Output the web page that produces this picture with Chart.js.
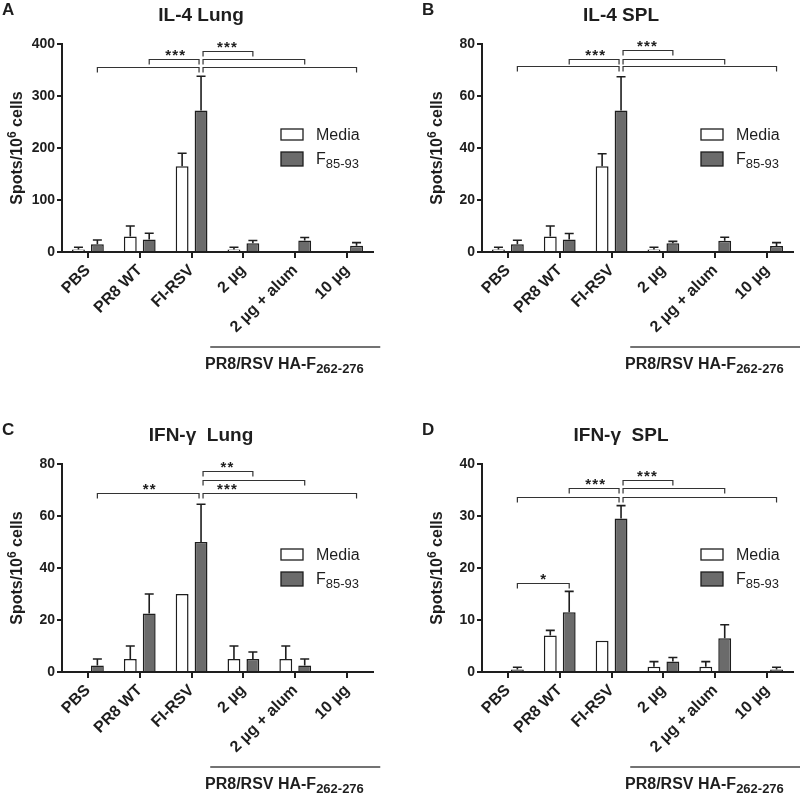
<!DOCTYPE html>
<html>
<head>
<meta charset="utf-8">
<script src="https://cdn.jsdelivr.net/npm/chart.js@4.4.1/dist/chart.umd.min.js"></script>
<style>
  body { margin: 0; background: #fff; width: 800px; height: 794px; overflow: hidden; position: relative; }
  canvas { position: absolute; }
</style>
</head>
<body>
<canvas id="chartA" width="400" height="374" style="left:0;top:0"></canvas>
<canvas id="chartB" width="380" height="374" style="left:420px;top:0"></canvas>
<canvas id="chartC" width="400" height="374" style="left:0;top:420px"></canvas>
<canvas id="chartD" width="380" height="374" style="left:420px;top:420px"></canvas>
<script>
// groupes (axe x) et séries
let groups = ['PBS', 'PR8 WT', 'FI-RSV', '2 µg', '2 µg + alum', '10 µg'];
let seriesNames = ['Media', 'F85-93'];

// A : IL-4 poumon
let lungIL4Media = [5, 30, 165, 5, null, null];
let lungIL4MediaErr = [4, 20, 25, 4, null, null];
let lungIL4F = [15, 24, 272, 17, 22, 12];
let lungIL4FErr = [8, 12, 66, 5, 6, 6];
let lungIL4Ticks = [0, 100, 200, 300, 400];

// B : IL-4 rate
let splIL4Media = [1, 6, 33, 1, null, null];
let splIL4MediaErr = [0.8, 4, 4.8, 0.8, null, null];
let splIL4F = [3, 4.8, 54.4, 3.4, 4.3, 2.3];
let splIL4FErr = [1.5, 2.3, 13, 0.7, 1.4, 1.3];
let splIL4Ticks = [0, 20, 40, 60, 80];

// C : IFN-γ poumon
let lungIFNMedia = [null, 5, 30, 5, 5, null];
let lungIFNMediaErr = [null, 5, null, 5, 5, null];
let lungIFNF = [2.5, 22.5, 50, 5, 2.5, null];
let lungIFNFErr = [2.5, 7.5, 14.5, 2.7, 2.5, null];
let lungIFNTicks = [0, 20, 40, 60, 80];

// D : IFN-γ rate
let splIFNMedia = [null, 7, 6, 1, 1, null];
let splIFNMediaErr = [null, 1, null, 1, 1, null];
let splIFNF = [0.5, 11.5, 29.5, 2, 6.5, 0.5];
let splIFNFErr = [0.4, 4, 2.5, 0.8, 2.6, 0.4];
let splIFNTicks = [0, 10, 20, 30, 40];

// crochets de significativité : groupe a -> groupe b, niveau en unités de l'axe
let lungIL4Brackets = [
    {a: 0, b: 2, y: 355},
    {a: 1, b: 2, y: 371, text: '***'},
    {a: 2, b: 3, y: 387, text: '***'},
    {a: 2, b: 4, y: 371},
    {a: 2, b: 5, y: 355}
];
let splIL4Brackets = [
    {a: 0, b: 2, y: 71.4},
    {a: 1, b: 2, y: 74.4, text: '***'},
    {a: 2, b: 3, y: 77.8, text: '***'},
    {a: 2, b: 4, y: 74.4},
    {a: 2, b: 5, y: 71.4}
];
let lungIFNBrackets = [
    {a: 0, b: 2, y: 68.7, text: '**'},
    {a: 2, b: 3, y: 77.4, text: '**'},
    {a: 2, b: 4, y: 74.0},
    {a: 2, b: 5, y: 68.7, text: '***', la: 2, lb: 3}
];
let splIFNBrackets = [
    {a: 0, b: 2, y: 33.7},
    {a: 1, b: 2, y: 35.4, text: '***'},
    {a: 2, b: 3, y: 37.0, text: '***'},
    {a: 2, b: 4, y: 35.4},
    {a: 2, b: 5, y: 33.7},
    {a: 0, b: 1, y: 17.2, text: '*'}
];

let FONT = '"Liberation Sans", Arial, sans-serif';
let INK = '#1e1e1e';
let HUB = 2; // FI-RSV

function errorBarsPlugin() {
    return {
        id: 'errorBars',
        afterDatasetsDraw(chart) {
            let ctx = chart.ctx;
            let y = chart.scales.y;
            ctx.save();
            ctx.strokeStyle = INK;
            ctx.lineWidth = 1.6;
            chart.data.datasets.forEach((ds, i) => {
                let meta = chart.getDatasetMeta(i);
                ds.data.forEach((v, j) => {
                    let e = ds.errors[j];
                    if (v == null || !e) return;
                    let el = meta.data[j];
                    let top = y.getPixelForValue(v + e);
                    ctx.beginPath();
                    ctx.moveTo(el.x, el.y);
                    ctx.lineTo(el.x, top);
                    ctx.moveTo(el.x - 4.5, top);
                    ctx.lineTo(el.x + 4.5, top);
                    ctx.stroke();
                });
            });
            ctx.restore();
        }
    };
} // barres d'erreur (moyenne + SEM)

function drawStars(ctx, text, cx, y) {
    let n = text.length;
    for (let k = 0; k < n; k++) {
        ctx.fillText('*', cx + (k - (n - 1) / 2) * 7, y);
    }
} // étoiles espacées comme sur la figure

function decorPlugin(letter, title, brackets) {
    return {
        id: 'decor',
        afterDraw(chart) {
            let ctx = chart.ctx;
            let xs = chart.scales.x;
            let ys = chart.scales.y;
            let area = chart.chartArea;
            let metaF = chart.getDatasetMeta(1);
            let off = metaF.data[HUB].x - xs.getPixelForValue(HUB);
            let xF = i => xs.getPixelForValue(i) + off;
            ctx.save();
            ctx.fillStyle = INK;
            ctx.strokeStyle = INK;

            // lettre du panneau + titre
            ctx.font = 'bold 17px ' + FONT;
            ctx.textAlign = 'left';
            ctx.textBaseline = 'alphabetic';
            ctx.fillText(letter, 2, 15);
            ctx.font = 'bold 19px ' + FONT;
            ctx.textAlign = 'center';
            ctx.fillText(title, 201, 21);

            // titre de l'axe y avec exposant
            ctx.save();
            ctx.translate(22, (area.top + area.bottom) / 2);
            ctx.rotate(-Math.PI / 2);
            ctx.textAlign = 'left';
            ctx.font = 'bold 16px ' + FONT;
            let w1 = ctx.measureText('Spots/10').width;
            let w3 = ctx.measureText(' cells').width;
            ctx.font = 'bold 12px ' + FONT;
            let w2 = ctx.measureText('6').width;
            let x0 = -(w1 + w2 + w3) / 2;
            ctx.font = 'bold 16px ' + FONT;
            ctx.fillText('Spots/10', x0, 0);
            ctx.fillText(' cells', x0 + w1 + w2, 0);
            ctx.font = 'bold 12px ' + FONT;
            ctx.fillText('6', x0 + w1, -6);
            ctx.restore();

            // légende
            ctx.lineWidth = 1.3;
            ctx.fillStyle = '#fff';
            ctx.fillRect(281, 129, 22, 11);
            ctx.strokeRect(281, 129, 22, 11);
            ctx.fillStyle = chart.data.datasets[1].backgroundColor;
            ctx.fillRect(281, 152, 22, 14);
            ctx.strokeRect(281, 152, 22, 14);
            ctx.fillStyle = INK;
            ctx.textAlign = 'left';
            ctx.font = '16px ' + FONT;
            ctx.fillText(seriesNames[0], 316, 140);
            ctx.fillText('F', 316, 164);
            let wf = ctx.measureText('F').width;
            ctx.font = '13px ' + FONT;
            ctx.fillText('85-93', 316 + wf, 168);

            // trait + étiquette PR8/RSV HA-F
            ctx.lineWidth = 1.5;
            ctx.strokeStyle = '#444';
            let cw = xs.getPixelForValue(1) - xs.getPixelForValue(0);
            ctx.beginPath();
            ctx.moveTo(xs.getPixelForValue(3) - 0.64 * cw, 347);
            ctx.lineTo(xs.getPixelForValue(5) + 0.64 * cw, 347);
            ctx.stroke();
            ctx.font = 'bold 16px ' + FONT;
            ctx.fillText('PR8/RSV HA-F', 205, 369);
            let wl = ctx.measureText('PR8/RSV HA-F').width;
            ctx.font = 'bold 13px ' + FONT;
            ctx.fillText('262-276', 205 + wl, 373);

            // crochets de significativité
            ctx.strokeStyle = '#333';
            ctx.lineWidth = 1.2;
            brackets.forEach(br => {
                let x1 = xF(br.a), x2 = xF(br.b);
                if (br.a === HUB) x1 += 2;
                if (br.b === HUB) x2 -= 2;
                let yp = Math.round(ys.getPixelForValue(br.y)) + 0.5;
                ctx.beginPath();
                ctx.moveTo(x1, yp + 5);
                ctx.lineTo(x1, yp);
                ctx.lineTo(x2, yp);
                ctx.lineTo(x2, yp + 5);
                ctx.stroke();
                if (br.text) {
                    let la = br.la != null ? br.la : br.a;
                    let lb = br.lb != null ? br.lb : br.b;
                    ctx.font = 'bold 15px ' + FONT;
                    ctx.textAlign = 'center';
                    drawStars(ctx, br.text, (xF(la) + xF(lb)) / 2, yp + 0.5);
                }
            });
            ctx.restore();
        }
    };
} // lettre, titres, légende, crochets

function makePanel(id, letter, title, media, mediaErr, f, fErr, yTicks, brackets) {
    let canvas = document.getElementById(id);
    let W = canvas.width, H = canvas.height;
    let ctx = canvas.getContext('2d');
    return new Chart(ctx, {
        type: 'bar',
        data: {
            labels: groups,
            datasets: [
                {label: seriesNames[0], data: media, errors: mediaErr, backgroundColor: '#ffffff', borderColor: INK, borderWidth: 1.5},
                {label: seriesNames[1], data: f, errors: fErr, backgroundColor: '#6b6b6b', borderColor: INK, borderWidth: 1.5}
            ]
        },
        options: {
            responsive: false,
            animation: false,
            categoryPercentage: 0.73,
            barPercentage: 0.68,
            layout: {padding: {top: 44, left: 0, right: W - 373, bottom: 0}},
            plugins: {legend: {display: false}, title: {display: false}, tooltip: {enabled: false}},
            scales: {
                x: {
                    grid: {offset: false, drawOnChartArea: false, tickLength: 6, color: INK, lineWidth: 2},
                    border: {color: INK, width: 2},
                    ticks: {font: {family: FONT, size: 16, weight: 'bold'}, color: INK, minRotation: 45, maxRotation: 45, autoSkip: false, padding: 3},
                    afterFit(s) { s.height = H - 252; }
                },
                y: {
                    min: 0,
                    max: yTicks[yTicks.length - 1],
                    afterBuildTicks(s) { s.ticks = yTicks.map(v => ({value: v})); },
                    grid: {drawOnChartArea: false, tickLength: 5, color: INK, lineWidth: 2},
                    border: {color: INK, width: 2},
                    ticks: {font: {family: FONT, size: 14, weight: 'bold'}, color: INK, padding: 2},
                    afterFit(s) { s.width = 62; }
                }
            }
        },
        plugins: [errorBarsPlugin(), decorPlugin(letter, title, brackets)]
    });
}

makePanel('chartA', 'A', 'IL-4 Lung', lungIL4Media, lungIL4MediaErr, lungIL4F, lungIL4FErr, lungIL4Ticks, lungIL4Brackets);
makePanel('chartB', 'B', 'IL-4 SPL', splIL4Media, splIL4MediaErr, splIL4F, splIL4FErr, splIL4Ticks, splIL4Brackets);
makePanel('chartC', 'C', 'IFN-γ  Lung', lungIFNMedia, lungIFNMediaErr, lungIFNF, lungIFNFErr, lungIFNTicks, lungIFNBrackets);
makePanel('chartD', 'D', 'IFN-γ  SPL', splIFNMedia, splIFNMediaErr, splIFNF, splIFNFErr, splIFNTicks, splIFNBrackets);
</script>
</body>
</html>
